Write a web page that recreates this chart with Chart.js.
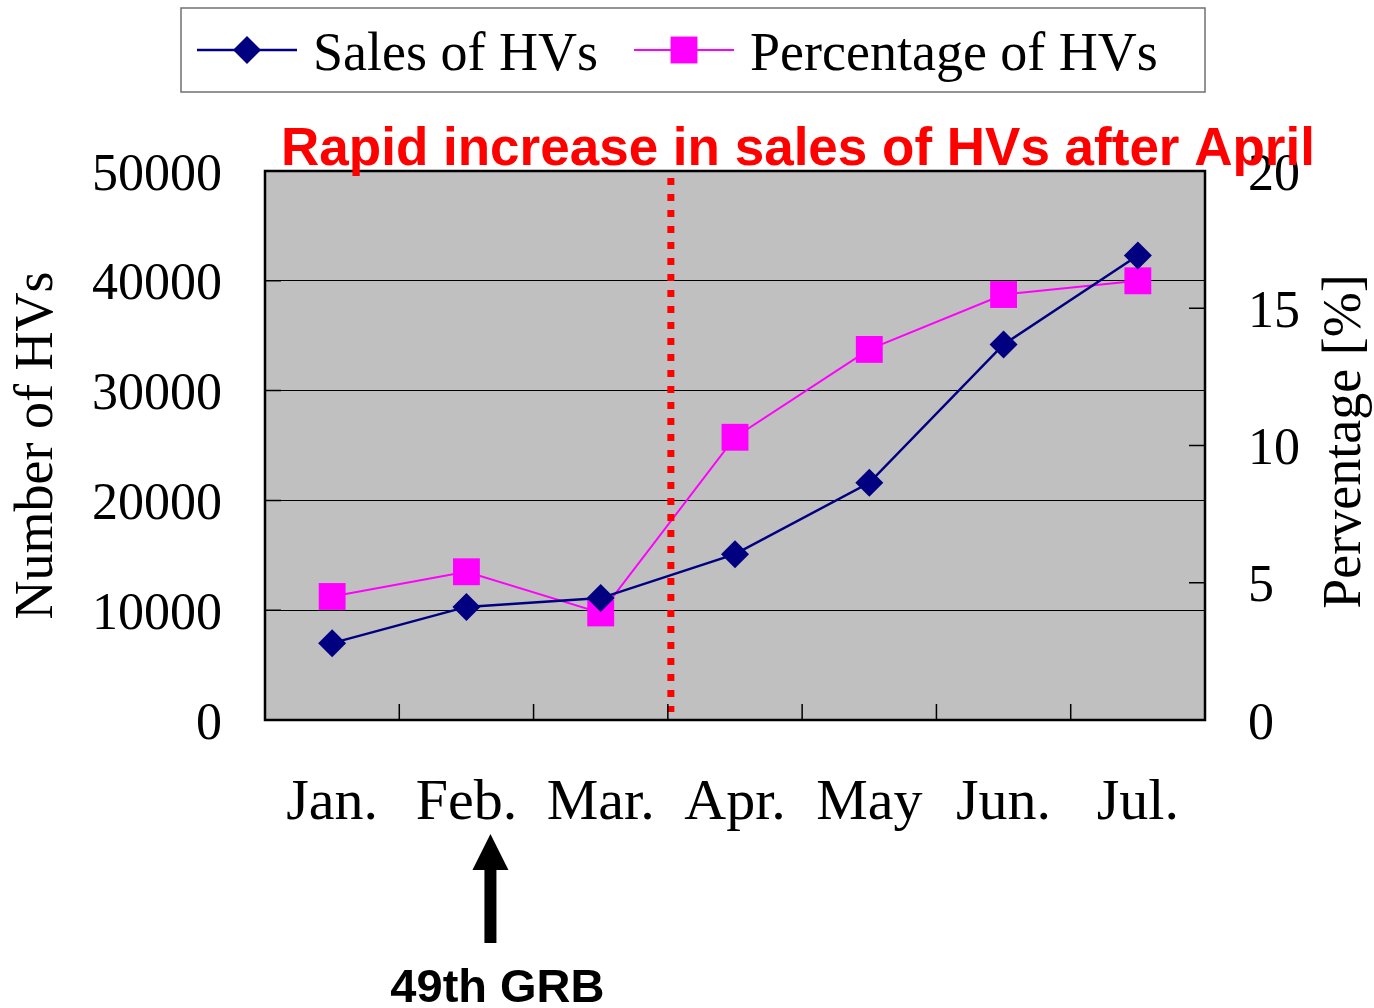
<!DOCTYPE html>
<html>
<head>
<meta charset="utf-8">
<script src="https://cdn.jsdelivr.net/npm/chart.js@4.4.1/dist/chart.umd.min.js"></script>
<style>
  html, body { margin: 0; padding: 0; background: #ffffff; }
  #wrap { width: 1374px; height: 1008px; position: relative; }
</style>
</head>
<body>
<div id="wrap"><canvas id="hvChart" width="1374" height="1008"></canvas></div>
<script>
// Chart data
const months = ["Jan.", "Feb.", "Mar.", "Apr.", "May", "Jun.", "Jul."];
const salesHV = [7000, 10300, 11100, 15100, 21600, 34200, 42300];
const percentHV = [4.5, 5.4, 3.9, 10.3, 13.5, 15.5, 16.0];
const salesTicks = [0, 10000, 20000, 30000, 40000, 50000];
const percentTicks = [0, 5, 10, 15, 20];

const SERIF = "'Liberation Serif', 'DejaVu Serif', serif";
const SANS = "'Liberation Sans', Arial, sans-serif";
const NAVY = "#000080";
const MAGENTA = "#ff00ff";

// Draw one point marker in the style of a dataset
function drawMarker(ctx, style, x, y, r, color) {
  ctx.save();
  ctx.fillStyle = color;
  ctx.beginPath();
  if (style === "rectRot") {
    ctx.moveTo(x, y - r);
    ctx.lineTo(x + r, y);
    ctx.lineTo(x, y + r);
    ctx.lineTo(x - r, y);
  } else {
    const h = r * Math.SQRT1_2;
    ctx.rect(x - h, y - h, h * 2, h * 2);
  }
  ctx.closePath();
  ctx.fill();
  ctx.restore();
}

/**
 * Plot background, frame, inward ticks, legend box and the annotations
 */
const decorPlugin = {
  id: "decor",
  beforeDraw(chart) {
    const { ctx, chartArea: a } = chart;
    ctx.save();
    ctx.fillStyle = "#c0c0c0";
    ctx.fillRect(a.left, a.top, a.right - a.left, a.bottom - a.top);
    ctx.restore();
  },
  afterDatasetsDraw(chart) {
    const { ctx, chartArea: a, scales } = chart;
    const x = scales.x;

    // dotted red marker between Mar. and Apr.
    const xSplit = (x.getPixelForValue(2) + x.getPixelForValue(3)) / 2 + 3;
    ctx.save();
    ctx.strokeStyle = "#ff0000";
    ctx.lineWidth = 7;
    ctx.setLineDash([7, 9]);
    ctx.beginPath();
    ctx.moveTo(xSplit, a.top + 7);
    ctx.lineTo(xSplit, a.bottom - 8);
    ctx.stroke();
    ctx.restore();
  },
  afterDraw(chart) {
    const { ctx, chartArea: a, scales } = chart;
    const x = scales.x, yL = scales.y, yR = scales.y1;

    ctx.save();
    // inward tick marks
    ctx.strokeStyle = "#000000";
    ctx.lineWidth = 1.5;
    ctx.beginPath();
    for (let i = 1; i < months.length; i++) {
      const px = (x.getPixelForValue(i - 1) + x.getPixelForValue(i)) / 2;
      ctx.moveTo(px, a.bottom);
      ctx.lineTo(px, a.bottom - 16);
    }
    salesTicks.forEach((v) => {
      const py = yL.getPixelForValue(v);
      ctx.moveTo(a.left, py);
      ctx.lineTo(a.left + 16, py);
    });
    percentTicks.forEach((v) => {
      const py = yR.getPixelForValue(v);
      ctx.moveTo(a.right - 16, py);
      ctx.lineTo(a.right, py);
    });
    ctx.stroke();

    // plot frame
    ctx.lineWidth = 2.5;
    ctx.strokeStyle = "#000000";
    ctx.strokeRect(a.left, a.top, a.right - a.left, a.bottom - a.top);

    // right axis title, reading bottom to top
    ctx.save();
    ctx.translate(1346, (a.top + a.bottom) / 2 - 4);
    ctx.rotate(-Math.PI / 2);
    ctx.fillStyle = "#000000";
    ctx.font = "54px " + SERIF;
    ctx.textAlign = "center";
    ctx.textBaseline = "middle";
    ctx.fillText("Perventage [%]", 0, 0);
    ctx.restore();

    // red headline
    ctx.fillStyle = "#ff0000";
    ctx.font = "bold 53px " + SANS;
    ctx.textAlign = "center";
    ctx.textBaseline = "alphabetic";
    ctx.fillText("Rapid increase in sales of HVs after April", a.left + 533, a.top - 6);

    // legend box
    ctx.strokeStyle = "#707070";
    ctx.lineWidth = 1.5;
    ctx.strokeRect(181, 8, 1024, 84);
    const legendItems = [
      { ds: chart.data.datasets[0], x0: 197 },
      { ds: chart.data.datasets[1], x0: 634 },
    ];
    legendItems.forEach(({ ds, x0 }) => {
      ctx.strokeStyle = ds.borderColor;
      ctx.lineWidth = ds.borderWidth;
      ctx.beginPath();
      ctx.moveTo(x0, 50);
      ctx.lineTo(x0 + 100, 50);
      ctx.stroke();
      drawMarker(ctx, ds.pointStyle, x0 + 50, 50, ds.pointRadius, ds.pointBackgroundColor);
      ctx.fillStyle = "#000000";
      ctx.font = "54px " + SERIF;
      ctx.textAlign = "left";
      ctx.textBaseline = "alphabetic";
      ctx.fillText(ds.label, x0 + 116, 70);
    });

    // arrow pointing at Feb. (49th GRB)
    const ax = x.getPixelForValue(1) + 24;
    ctx.fillStyle = "#000000";
    ctx.fillRect(ax - 6, 866, 12, 77);
    ctx.beginPath();
    ctx.moveTo(ax, 834);
    ctx.lineTo(ax + 18, 870);
    ctx.lineTo(ax - 18, 870);
    ctx.closePath();
    ctx.fill();
    ctx.font = "bold 47px " + SANS;
    ctx.textAlign = "center";
    ctx.fillText("49th GRB", ax + 7, 1002);
    ctx.restore();
  },
};

const ctx = document.getElementById("hvChart");
new Chart(ctx, {
  type: "line",
  data: {
    labels: months,
    datasets: [
      {
        label: "Sales of HVs",
        data: salesHV,
        yAxisID: "y",
        borderColor: NAVY,
        backgroundColor: NAVY,
        pointBackgroundColor: NAVY,
        pointBorderWidth: 0,
        borderWidth: 2.5,
        pointStyle: "rectRot",
        pointRadius: 14,
        tension: 0,
      },
      {
        label: "Percentage of HVs",
        data: percentHV,
        yAxisID: "y1",
        borderColor: MAGENTA,
        backgroundColor: MAGENTA,
        pointBackgroundColor: MAGENTA,
        pointBorderWidth: 0,
        borderWidth: 2,
        pointStyle: "rect",
        pointRadius: 19,
        tension: 0,
      },
    ],
  },
  options: {
    responsive: false,
    animation: false,
    layout: { padding: { top: 171, left: 0, right: 0, bottom: 0 } },
    plugins: {
      legend: { display: false },
      title: { display: false },
      tooltip: { enabled: false },
    },
    scales: {
      x: {
        offset: true,
        grid: { display: false, drawTicks: false },
        border: { display: false },
        ticks: {
          color: "#000000",
          padding: 49,
          maxRotation: 0,
          font: { family: SERIF, size: 58 },
        },
        afterFit(scale) {
          scale.height = 288;
        },
      },
      y: {
        position: "left",
        min: 0,
        max: 50000,
        grid: { color: "#000000", lineWidth: 1, drawTicks: false },
        border: { display: false },
        ticks: {
          stepSize: 10000,
          color: "#000000",
          padding: 43,
          labelOffset: 5,
          font: { family: SERIF, size: 52 },
          callback: (v) => String(v),
        },
        title: {
          display: true,
          text: "Number of HVs",
          color: "#000000",
          font: { family: SERIF, size: 54 },
          padding: { top: 5, bottom: 4 },
        },
        afterFit(scale) {
          scale.width = 265;
        },
      },
      y1: {
        position: "right",
        min: 0,
        max: 20,
        grid: { drawOnChartArea: false, drawTicks: false },
        border: { display: false },
        ticks: {
          stepSize: 5,
          color: "#000000",
          padding: 43,
          labelOffset: 5,
          font: { family: SERIF, size: 52 },
          callback: (v) => String(v),
        },
        afterFit(scale) {
          scale.width = 169;
        },
      },
    },
  },
  plugins: [decorPlugin],
});
</script>
</body>
</html>
